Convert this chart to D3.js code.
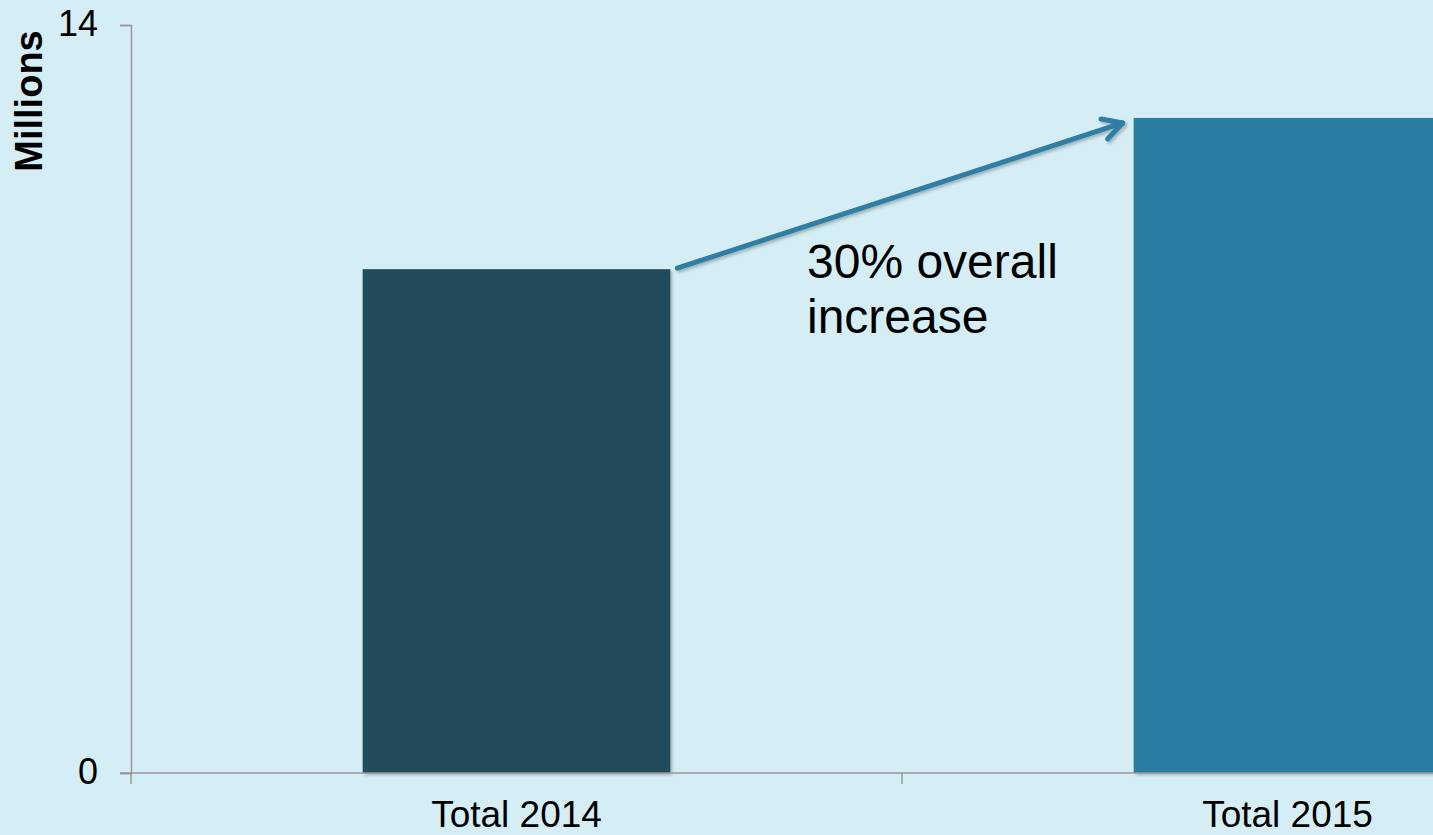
<!DOCTYPE html>
<html>
<head>
<meta charset="utf-8">
<script src="https://cdn.jsdelivr.net/npm/d3@7"></script>
<style>
  html, body { margin: 0; padding: 0; background: #d5edf5; overflow: hidden; }
  text { font-family: "Liberation Sans", Arial, sans-serif; }
</style>
</head>
<body>
<div id="chart"></div>
<script>
const categories = ["Total 2014", "Total 2015"];
const values = [9.43, 12.26];
const yTicks = [0, 14];
const yLabel = "Millions";
const noteLines = ["30% overall", "increase"];

const barColors = { "Total 2014": "#244b5b", "Total 2015": "#2c7ba0" };
const axisColor = "#989898";

const width = 1433, height = 835;
const margin = { top: 25, left: 131, bottom: 62 };

const svg = d3.select("#chart").append("svg")
    .attr("width", width)
    .attr("height", height);

svg.append("rect")
    .attr("width", width)
    .attr("height", height)
    .attr("fill", "#d5edf5");

// soft shadow like the office chart
const defs = svg.append("defs");
const shadow = defs.append("filter").attr("id", "shadow")
    .attr("x", "-10%").attr("y", "-10%").attr("width", "130%").attr("height", "130%");
shadow.append("feDropShadow")
    .attr("dx", 2).attr("dy", 2).attr("stdDeviation", 1.5)
    .attr("flood-color", "#000").attr("flood-opacity", 0.25);

const pad = 0.601;
const x = d3.scaleBand()
    .domain(categories)
    .range([margin.left, margin.left + 771 * 2])
    .paddingInner(pad)
    .paddingOuter(pad / 2);

const y = d3.scaleLinear()
    .domain([0, 14])
    .range([height - margin.bottom, margin.top]);

const y0 = y(0);

// bars
svg.append("g")
    .selectAll("rect")
    .data(categories)
    .join("rect")
    .attr("x", d => x(d))
    .attr("y", (d, i) => y(values[i]))
    .attr("width", x.bandwidth())
    .attr("height", (d, i) => y0 - y(values[i]))
    .attr("fill", d => barColors[d])
    .attr("filter", "url(#shadow)");

// y axis
const yAxis = svg.append("g")
    .attr("transform", `translate(${margin.left},0)`)
    .call(d3.axisLeft(y).tickValues(yTicks).tickSize(11).tickPadding(22).tickFormat(d3.format("d")));
yAxis.select(".domain").attr("stroke", axisColor).attr("stroke-width", 1.5);
yAxis.selectAll(".tick line").attr("stroke", axisColor).attr("stroke-width", 1.5);
yAxis.selectAll(".tick text")
    .attr("font-size", "36px")
    .attr("fill", "#000")
    .attr("dy", "0.28em")
    .attr("font-family", "Liberation Sans, Arial, sans-serif");

svg.append("text")
    .attr("transform", `translate(42,${(32 + 170) / 2}) rotate(-90)`)
    .attr("text-anchor", "middle")
    .attr("font-size", "38px")
    .attr("font-weight", "bold")
    .attr("fill", "#000")
    .text(yLabel);

// x axis
const xAxis = svg.append("g")
    .attr("transform", `translate(0,${y0})`)
    .call(d3.axisBottom(x).tickSize(0).tickPadding(28));
xAxis.select(".domain").remove();
xAxis.selectAll(".tick text")
    .attr("font-size", "37px")
    .attr("fill", "#000")
    .attr("font-family", "Liberation Sans, Arial, sans-serif");

svg.append("line")
    .attr("x1", margin.left - 11)
    .attr("x2", width)
    .attr("y1", y0)
    .attr("y2", y0)
    .attr("stroke", axisColor)
    .attr("stroke-width", 1.5);

const step = x.step();
const boundaries = d3.range(categories.length + 1).map(i => x.range()[0] + i * step);
svg.append("g")
    .selectAll("line")
    .data(boundaries)
    .join("line")
    .attr("x1", d => d)
    .attr("x2", d => d)
    .attr("y1", y0)
    .attr("y2", y0 + 11)
    .attr("stroke", axisColor)
    .attr("stroke-width", 1.5);

// arrow annotation
const arrowColor = "#2e7fa3";
const x1 = x(categories[0]) + x.bandwidth() + 7;
const yA = y(values[0]) - 1;
const x2 = x(categories[1]) - 11;
const yB = y(values[1]) + 5;

const arrowG = svg.append("g").attr("filter", "url(#shadow)");
arrowG.append("line")
    .attr("x1", x1).attr("y1", yA)
    .attr("x2", x2).attr("y2", yB)
    .attr("stroke", arrowColor)
    .attr("stroke-width", 5)
    .attr("stroke-linecap", "round");

const ang = Math.atan2(yB - yA, x2 - x1);
const headLen = 22, spread = 0.5;
const head = d3.path();
head.moveTo(x2 - headLen * Math.cos(ang - spread), yB - headLen * Math.sin(ang - spread));
head.lineTo(x2, yB);
head.lineTo(x2 - headLen * Math.cos(ang + spread), yB - headLen * Math.sin(ang + spread));
arrowG.append("path")
    .attr("d", head.toString())
    .attr("fill", "none")
    .attr("stroke", arrowColor)
    .attr("stroke-width", 5)
    .attr("stroke-linecap", "round")
    .attr("stroke-linejoin", "round");

svg.append("text")
    .attr("x", 807)
    .attr("y", 278)
    .attr("font-size", "48px")
    .attr("fill", "#000")
    .selectAll("tspan")
    .data(noteLines)
    .join("tspan")
    .attr("x", 807)
    .attr("dy", (d, i) => i === 0 ? 0 : 55)
    .text(d => d);
</script>
</body>
</html>
